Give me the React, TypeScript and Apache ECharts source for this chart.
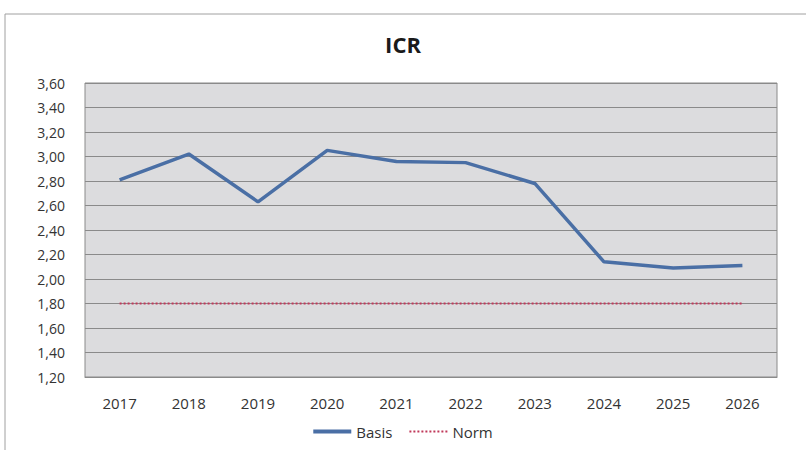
import React, { useEffect, useRef } from "react";
import * as echarts from "echarts";

const years = ["2017", "2018", "2019", "2020", "2021", "2022", "2023", "2024", "2025", "2026"];
const basis = [2.81, 3.02, 2.63, 3.05, 2.96, 2.95, 2.78, 2.14, 2.09, 2.11];
const norm = [1.8, 1.8, 1.8, 1.8, 1.8, 1.8, 1.8, 1.8, 1.8, 1.8];

const FONT = "'Open Sans', 'Noto Sans', sans-serif";

export default function App() {
  const ref = useRef<HTMLDivElement>(null);
  useEffect(() => {
    const chart = echarts.init(ref.current!, undefined, { renderer: "svg" });
    chart.setOption({
      animation: false,
      backgroundColor: "#ffffff",
      title: {
        text: "ICR",
        left: "center",
        top: 28,
        textStyle: { fontFamily: FONT, fontSize: 22, fontWeight: "bold", color: "#1a1a1a" },
      },
      graphic: [
        {
          type: "rect",
          shape: { x: 5, y: 14, width: 820, height: 460 },
          style: { fill: "none", stroke: "#a0a0a0", lineWidth: 1 },
          silent: true,
        },
      ],
      grid: {
        left: 85,
        right: 29,
        top: 83,
        bottom: 73,
        show: true,
        backgroundColor: "#dcdcde",
        borderColor: "#8a8a8a",
        borderWidth: 1,
      },
      legend: {
        bottom: 6,
        left: "center",
        itemWidth: 38,
        itemHeight: 4,
        itemGap: 16,
        textStyle: { fontFamily: FONT, fontSize: 15, fontWeight: 500, color: "#333" },
        data: [
          { name: "Basis", icon: "rect" },
          { name: "Norm", itemStyle: { opacity: 0 } },
        ],
      },
      xAxis: {
        type: "category",
        data: years,
        boundaryGap: true,
        axisLine: { show: true, lineStyle: { color: "#8a8a8a" } },
        axisTick: { show: false },
        axisLabel: { fontFamily: FONT, fontSize: 15, fontWeight: 500, color: "#333", margin: 18 },
      },
      yAxis: {
        type: "value",
        min: 1.2,
        max: 3.6,
        interval: 0.2,
        axisLine: { show: false },
        axisTick: { show: false },
        splitLine: { show: true, lineStyle: { color: "#8a8a8a", width: 1 } },
        axisLabel: {
          fontFamily: FONT,
          fontSize: 14,
          fontWeight: 500,
          color: "#333",
          margin: 20,
          formatter: (v: number) => v.toFixed(2).replace(".", ","),
        },
      },
      series: [
        {
          name: "Basis",
          type: "line",
          data: basis,
          symbol: "none",
          lineStyle: { color: "#4a6fa5", width: 3.5 },
          itemStyle: { color: "#4a6fa5" },
        },
        {
          name: "Norm",
          type: "line",
          data: norm,
          symbol: "none",
          lineStyle: { color: "#c0395a", width: 2, type: [2, 2] },
          itemStyle: { color: "#c0395a" },
        },
      ],
    });
    return () => chart.dispose();
  }, []);
  return (
    <div
      ref={ref}
      style={{ position: "absolute", left: 0, top: 0, width: 806, height: 450 }}
    />
  );
}
